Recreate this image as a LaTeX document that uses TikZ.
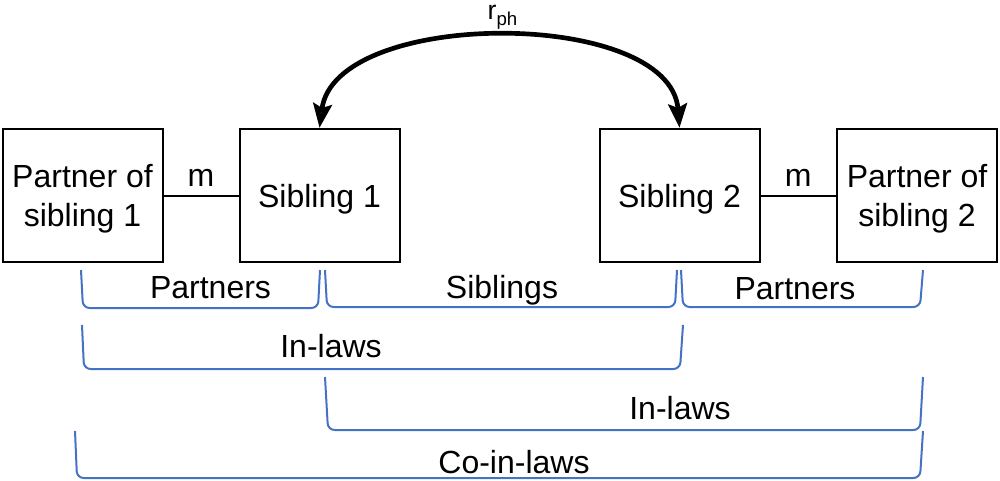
\documentclass[tikz,border=0pt]{standalone}
\usepackage{fontspec}
\setmainfont{Liberation Sans}
\usetikzlibrary{arrows.meta}
\definecolor{brkblue}{HTML}{4472C4}
\begin{document}
\begin{tikzpicture}[
  x=0.75pt,
  y=-0.75pt,
  font=\fontsize{24}{29}\selectfont,
  box/.style={draw=black, line width=1.5pt, minimum width=120pt, minimum height=100pt, align=center, inner sep=0pt, text depth=0pt},
  link/.style={black, line width=1.5pt},
  swap/.style={black, line width=3.5pt, {Stealth[length=18pt,width=14pt,inset=3pt]}-{Stealth[length=18pt,width=14pt,inset=3pt]}},
  bracket/.style={brkblue, line width=1.5pt, rounded corners=5pt},
  lbl/.style={anchor=base},
]
  \useasboundingbox (0,0) rectangle (1000,480);

  % people
  \node[box] (pa1) at (82.5,195.5) {Partner of\\sibling 1};
  \node[box] (sib1) at (319.5,195.5) {Sibling 1};
  \node[box] (sib2) at (679.5,195.5) {Sibling 2};
  \node[box] (pa2) at (917,195.5) {Partner of\\sibling 2};

  % mating links
  \draw[link] (pa1) -- node[above=3pt] (m1) {m} (sib1);
  \draw[link] (sib2) -- node[above=3pt] (m2) {m} (pa2);

  % phenotypic correlation
  \draw[swap] (sib1.north) .. controls +(15.5,-120) and +(-9.5,-120) .. (sib2.north);
  \node[lbl, inner sep=0pt] (rph) at (502.5,19) {\fontsize{20}{22}\selectfont r\raisebox{-4.5pt}{\fontsize{14}{16}\selectfont ph}};

  % Partners
  \draw[bracket] (81,270) -- (83,308) -- (318,308) -- (320,270);
  \node[lbl] (part1) at (210.5,298) {Partners};

  % Siblings
  \draw[bracket] (325,270) -- (327,307) -- (675,307) -- (677,270);
  \node[lbl] (sibs) at (502,298) {Siblings};

  % Partners
  \draw[bracket] (681,270) -- (683,307) -- (920,307) -- (923,270);
  \node[lbl] (part2) at (795,299) {Partners};

  % In-laws
  \draw[bracket] (82,325) -- (84,369) -- (680,369) -- (683,325);
  \node[lbl] (inl1) at (331,357) {In-laws};

  % In-laws
  \draw[bracket] (325,377) -- (328,430) -- (920,430) -- (923,377);
  \node[lbl] (inl2) at (680,419) {In-laws};

  % Co-in-laws
  \draw[bracket] (75,431) -- (77,478) -- (920,478) -- (923,431);
  \node[lbl] (coinl) at (514,473) {Co-in-laws};
\end{tikzpicture}
\end{document}
